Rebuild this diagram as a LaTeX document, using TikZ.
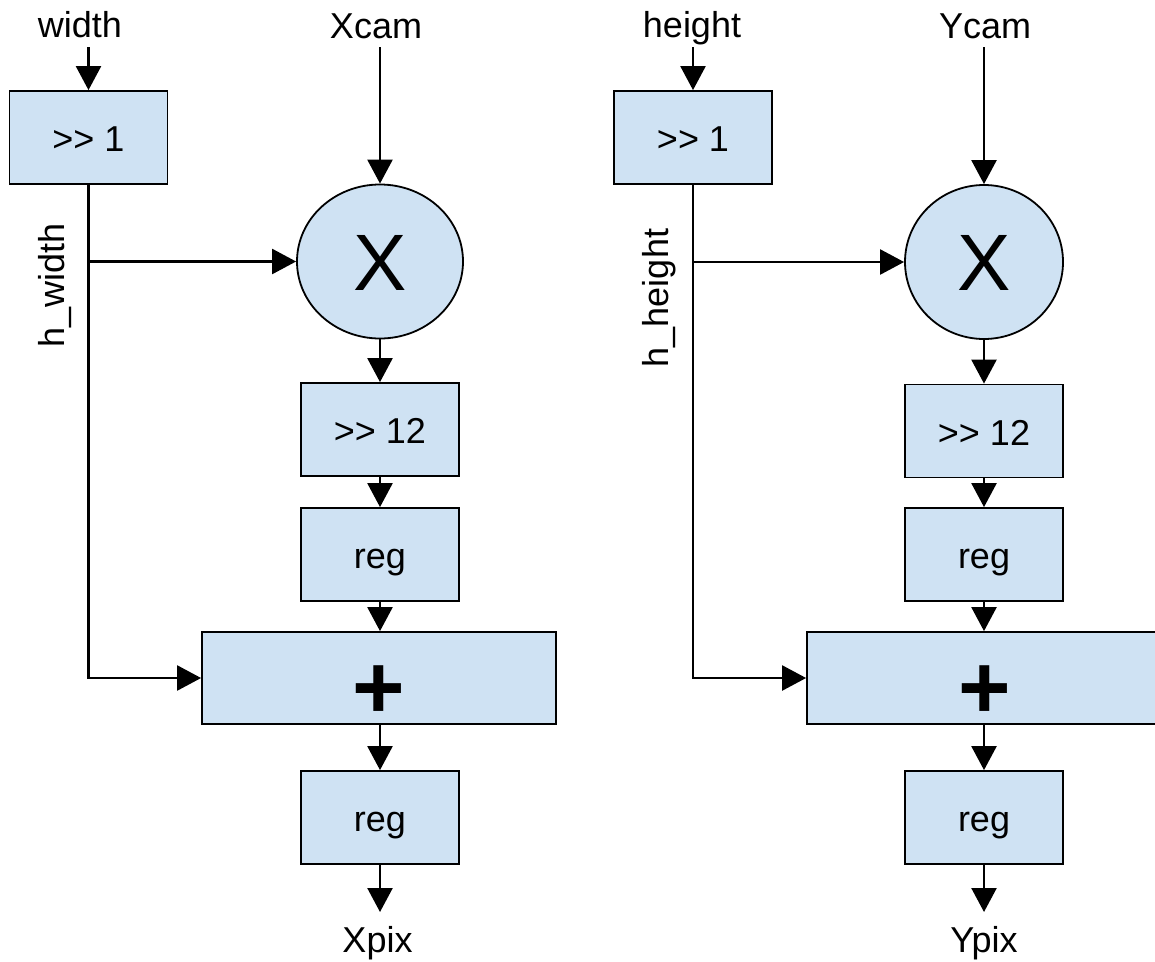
\documentclass[tikz,border=0pt]{standalone}
\usepackage{fontspec}
\setmainfont{Liberation Sans}
\usetikzlibrary{arrows.meta,shapes.geometric}
\definecolor{boxfill}{HTML}{CFE2F3}
\begin{document}
\begin{tikzpicture}[x=1pt,y=-1pt,
  blk/.style={draw=black,line width=1.8pt,fill=boxfill,minimum width=158pt,minimum height=93pt,inner sep=0pt,text height=28pt,text depth=0pt,font=\fontsize{36}{42}\selectfont},
  io/.style={inner sep=0pt,anchor=base,font=\fontsize{36}{42}\selectfont},
  mul/.style={ellipse,draw=black,line width=1.8pt,fill=boxfill,minimum height=154pt,inner sep=0pt,text height=57pt,text depth=0pt,font=\fontsize{80}{90}\selectfont},
  addblk/.style={blk,minimum width=354pt,minimum height=92pt,text height=80pt,font=\bfseries\fontsize{90}{96}\selectfont},
  wire/.style={line width=2.4pt},
  arr/.style={wire,-{Triangle[length=24pt,width=25pt]}},
  vlab/.style={rotate=90,inner sep=0pt,anchor=base,font=\fontsize{36}{42}\selectfont}]
\useasboundingbox (0,0) rectangle (1155,961);
% ---------- left chain ----------
\node[io] (wl) at (80,37) {width};
\node[io] (xc) at (376,38) {Xcam};
\node[blk] (s1l) at (88.5,137.5) {>\kern0pt> 1};
\node[mul,minimum width=166pt] (ml) at (380,261.5) {X};
\node[blk] (s12l) at (380,429.5) {>\kern0pt> 12};
\node[blk] (r1l) at (380,554.5) {reg};
\node[addblk] (al) at (379,678) {+};
\node[blk] (r2l) at (380,817.5) {reg};
\node[io] (xp) at (377.5,952) {Xpix};
\node[vlab] (hw) at (64,285) {h\_width};
\coordinate (wl-in) at (88.5,47);
\coordinate (xc-in) at (380,47);
\coordinate (xp-out) at (380,912);
\draw[arr] (wl-in) -- (s1l.north);
\draw[arr] (xc-in) -- (ml.north);
\draw[arr] (s1l.south) |- (al.west);
\draw[arr] (s1l.south |- ml.west) -- (ml.west);
\draw[arr] (ml.south) -- (s12l.north);
\draw[arr] (s12l.south) -- (r1l.north);
\draw[arr] (r1l.south) -- (al.north -| r1l.south);
\draw[arr] (al.south -| r2l.north) -- (r2l.north);
\draw[arr] (r2l.south) -- (xp-out);
% ---------- right chain ----------
\node[io] (hl) at (692,37) {height};
\node[io] (yc) at (985,38) {Ycam};
\node[blk] (s1r) at (693,137.5) {>\kern0pt> 1};
\node[mul,minimum width=158pt] (mr) at (984,262) {X};
\node[blk] (s12r) at (984,431) {>\kern0pt> 12};
\node[blk] (r1r) at (984,554.5) {reg};
\node[addblk,minimum width=356pt] (ar) at (985,678) {+};
\node[blk] (r2r) at (984,817.5) {reg};
\node[io] (yp) at (984,952) {Ypix};
\node[vlab] (hh) at (668,298) {h\_height};
\coordinate (hl-in) at (693,47);
\coordinate (yc-in) at (984,47);
\coordinate (yp-out) at (984,912);
\draw[arr] (hl-in) -- (s1r.north);
\draw[arr] (yc-in) -- (mr.north);
\draw[arr] (s1r.south) |- (ar.west);
\draw[arr] (s1r.south |- mr.west) -- (mr.west);
\draw[arr] (mr.south) -- (s12r.north);
\draw[arr] (s12r.south) -- (r1r.north);
\draw[arr] (r1r.south) -- (ar.north -| r1r.south);
\draw[arr] (ar.south -| r2r.north) -- (r2r.north);
\draw[arr] (r2r.south) -- (yp-out);
\end{tikzpicture}
\end{document}
